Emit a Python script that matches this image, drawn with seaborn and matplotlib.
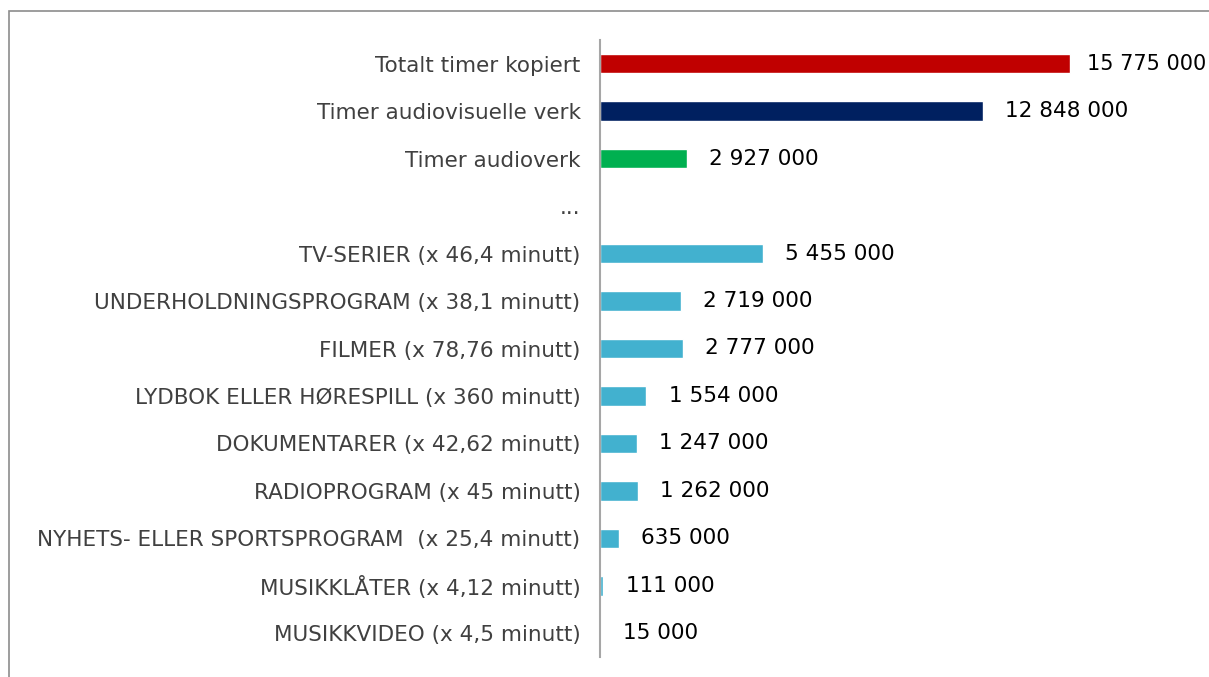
import matplotlib
matplotlib.use("Agg")
import matplotlib.pyplot as plt
from matplotlib.patches import Rectangle
import pandas as pd
import seaborn as sns

# kategorier og verdier (timer)
categories = [
    "Totalt timer kopiert",
    "Timer audiovisuelle verk",
    "Timer audioverk",
    "...",
    "TV-SERIER (x 46,4 minutt)",
    "UNDERHOLDNINGSPROGRAM (x 38,1 minutt)",
    "FILMER (x 78,76 minutt)",
    "LYDBOK ELLER HØRESPILL (x 360 minutt)",
    "DOKUMENTARER (x 42,62 minutt)",
    "RADIOPROGRAM (x 45 minutt)",
    "NYHETS- ELLER SPORTSPROGRAM  (x 25,4 minutt)",
    "MUSIKKLÅTER (x 4,12 minutt)",
    "MUSIKKVIDEO (x 4,5 minutt)",
]
values = [15775000, 12848000, 2927000, None, 5455000, 2719000, 2777000,
          1554000, 1247000, 1262000, 635000, 111000, 15000]
value_labels = ["15 775 000", "12 848 000", "2 927 000", "", "5 455 000",
                "2 719 000", "2 777 000", "1 554 000", "1 247 000",
                "1 262 000", "635 000", "111 000", "15 000"]
colors = ["#C00000", "#002060", "#00B050", "#FFFFFF"] + ["#42B1CF"] * 9

df = pd.DataFrame({"kategori": categories, "timer": values})
plot_df = df.dropna()

sns.set_style("white")
plt.rcParams["font.family"] = ["DejaVu Sans"]

fig = plt.figure(figsize=(12.09, 6.77), dpi=100)
ax = fig.add_axes([600 / 1209, 20 / 677, 609 / 1209, 617 / 677])

palette = dict(zip(categories, colors))
sns.barplot(data=plot_df, x="timer", y="kategori", hue="kategori",
            order=categories, palette=palette, legend=False,
            width=0.41, orient="h", ax=ax, saturation=1)

for i, (v, lab) in enumerate(zip(values, value_labels)):
    if v is None:
        continue
    # lengste etikett flyttes litt inn slik som i originalen
    off = 12 if i == 0 else 16
    size = 15 if i == 0 else 15.5
    ax.annotate(lab, (v, i), xytext=(off, 0), textcoords="offset points",
                va="center", ha="left", fontsize=size, color="black",
                annotation_clip=False)

ax.set_xlim(0, 609 / 29.8 * 1e6)
ax.set_ylim(12.5, -0.5)
ax.set_xlabel("")
ax.set_ylabel("")
ax.set_xticks([])
ax.tick_params(axis="y", length=0, pad=14, labelsize=15.5, labelcolor="#404040")
for s in ["top", "right", "bottom"]:
    ax.spines[s].set_visible(False)
ax.spines["left"].set_color("#A6A6A6")
ax.spines["left"].set_linewidth(1.5)

# ramme rundt diagrammet
fig.patches.append(Rectangle((9 / 1209, -0.1), 1.2, (677 - 11) / 677 + 0.1,
                             transform=fig.transFigure, fill=False,
                             edgecolor="#8C8C8C", linewidth=1.2))

fig.savefig("out.png", dpi=100)
